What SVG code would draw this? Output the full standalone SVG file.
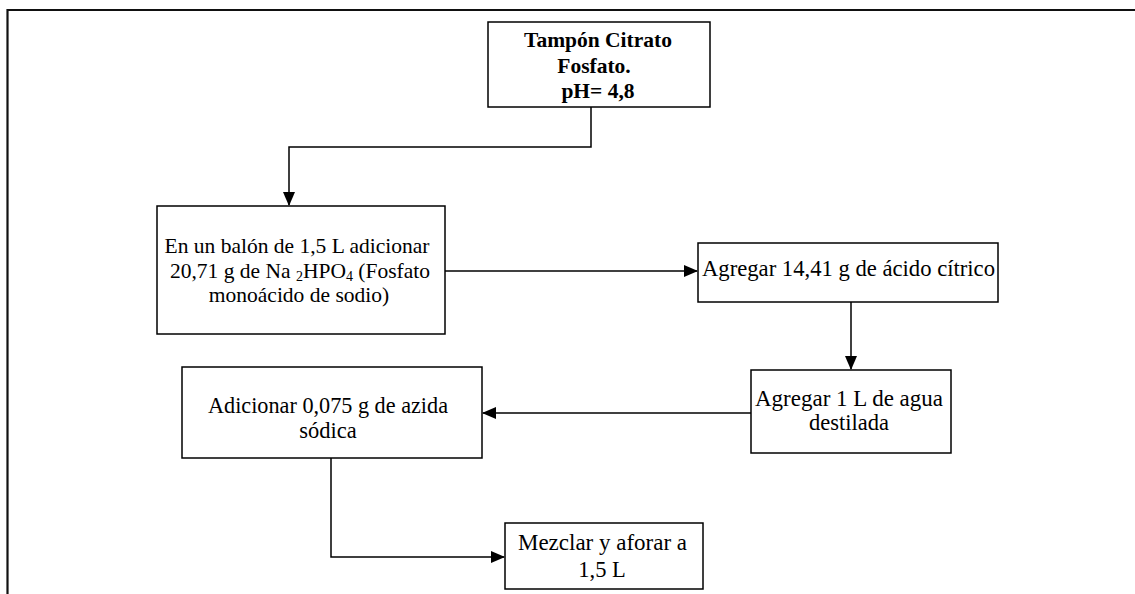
<svg xmlns="http://www.w3.org/2000/svg" width="1135" height="594" viewBox="0 0 1135 594">
<style>
.box{fill:#fff;stroke:#000;stroke-width:1.5}
.t{font-family:"Liberation Serif","Times New Roman",serif;font-size:21.5px;fill:#000;text-anchor:middle}
.l{font-size:22.5px}
.b{font-weight:bold}
.c{fill:none;stroke:#000;stroke-width:1.5}
.frame{fill:none;stroke:#111;stroke-width:2.2}
</style>
<defs>
<marker id="ah" markerWidth="14" markerHeight="12" refX="13" refY="6" orient="auto" markerUnits="userSpaceOnUse">
<path d="M0,0 L14,6 L0,12 Z" fill="#000"/>
</marker>
</defs>
<rect width="1135" height="594" fill="#fff"/>
<path class="frame" d="M7.5,600 V10 H1140"/>
<g id="connectors">
<path class="c" d="M591,107 V147 H289 V205" marker-end="url(#ah)"/>
<path class="c" d="M445,271 H697" marker-end="url(#ah)"/>
<path class="c" d="M851,302 V369" marker-end="url(#ah)"/>
<path class="c" d="M751,413 H483" marker-end="url(#ah)"/>
<path class="c" d="M331,458 V557 H504" marker-end="url(#ah)"/>
</g>
<g id="n1">
<rect class="box" x="488" y="22" width="222" height="85"/>
<text class="t b" x="598" y="47">Tampón Citrato</text>
<text class="t b" x="594" y="73">Fosfato.</text>
<text class="t b" x="598" y="98">pH= 4,8</text>
</g>
<g id="n2">
<rect class="box" x="157" y="206" width="288" height="128"/>
<text class="t" x="297" y="253">En un balón de 1,5 L adicionar</text>
<text class="t" x="300" y="278">20,71 g de Na <tspan font-size="14" dy="3">2</tspan><tspan dy="-3">HPO</tspan><tspan font-size="14" dy="3">4</tspan><tspan dy="-3"> (Fosfato</tspan></text>
<text class="t" x="299" y="302">monoácido de sodio)</text>
</g>
<g id="n3">
<rect class="box" x="698" y="243" width="300" height="59"/>
<text class="t l" x="848.5" y="276" textLength="293" lengthAdjust="spacingAndGlyphs">Agregar 14,41 g de ácido cítrico</text>
</g>
<g id="n4">
<rect class="box" x="751" y="370" width="200" height="83"/>
<text class="t l" x="849" y="406" textLength="188" lengthAdjust="spacingAndGlyphs">Agregar 1 L de agua</text>
<text class="t l" x="849" y="430">destilada</text>
</g>
<g id="n5">
<rect class="box" x="182" y="367" width="300" height="91"/>
<text class="t l" x="328" y="413" textLength="240" lengthAdjust="spacingAndGlyphs">Adicionar 0,075 g de azida</text>
<text class="t l" x="328" y="438">sódica</text>
</g>
<g id="n6">
<rect class="box" x="505" y="523" width="198" height="66"/>
<text class="t l" x="602.5" y="550" textLength="169" lengthAdjust="spacingAndGlyphs">Mezclar y aforar a</text>
<text class="t l" x="602" y="577">1,5 L</text>
</g>
</svg>
